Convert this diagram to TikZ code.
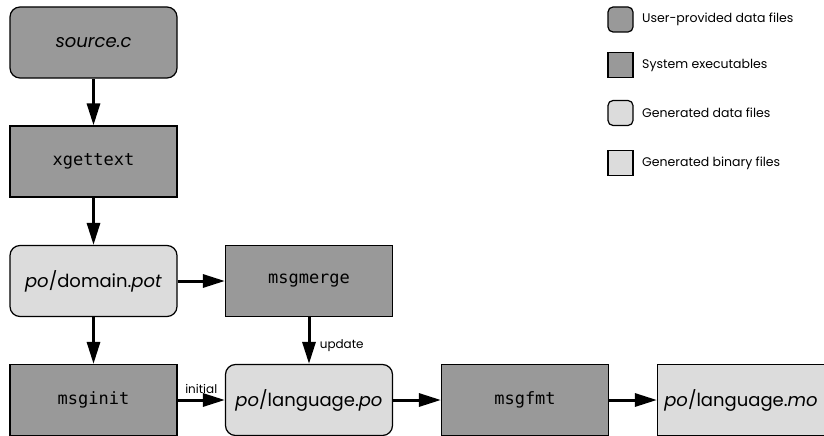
\documentclass[tikz,border=0pt]{standalone}
\usepackage{fontspec}
\setmainfont{Poppins}
\setmonofont{DejaVu Sans Mono}
\usetikzlibrary{arrows.meta}
\definecolor{darkfill}{HTML}{999999}
\definecolor{lightfill}{HTML}{DCDCDC}
\tikzset{
  box/.style={draw, line width=1.2pt, minimum width=167pt, minimum height=71pt, inner sep=0pt},
  userfile/.style={box, rounded corners=10pt, fill=darkfill, font=\fontsize{18}{21}\selectfont\itshape},
  sysexe/.style={box, fill=darkfill, font=\fontsize{17}{20}\ttfamily},
  gendata/.style={box, rounded corners=10pt, fill=lightfill, font=\fontsize{18}{21}\selectfont},
  genbin/.style={box, fill=lightfill, font=\fontsize{18}{21}\selectfont},
  key/.style={draw, line width=1.2pt, minimum size=25pt, inner sep=0pt},
  keytext/.style={anchor=west, inner sep=0pt, font=\fontsize{12.5}{15}\selectfont},
  flow/.style={line width=3pt, -{Triangle[length=22pt,width=13pt]}},
  note/.style={font=\fontsize{12}{14}\selectfont}
}
\begin{document}
\begin{tikzpicture}[x=1pt,y=-1pt]
\useasboundingbox (0,0) rectangle (824,436);
% main chain
\node[userfile] (source) at (93.5,42.5) {source.c};
\node[sysexe] (xgettext) at (93.5,161.5) {xgettext};
\node[gendata] (domain) at (93.5,281) {\textit{po}/domain.\textit{pot}};
\node[sysexe] (msgmerge) at (309,281) {msgmerge};
\node[sysexe] (msginit) at (93.5,400) {msginit};
\node[gendata] (language) at (309,400) {\textit{po}/language.\textit{po}};
\node[sysexe] (msgfmt) at (525,400) {msgfmt};
\node[genbin] (binary) at (741,400) {\textit{po}/language.\textit{mo}};
\draw[flow] (source) -- (xgettext);
\draw[flow] (xgettext) -- (domain);
\draw[flow] (domain) -- (msgmerge);
\draw[flow] (domain) -- (msginit);
\draw[flow] (msgmerge) -- node[note, pos=0.62, anchor=west, xshift=6pt] {update} (language);
\draw[flow] (msginit) -- node[note, anchor=south, yshift=2pt] {initial} (language);
\draw[flow] (language) -- (msgfmt);
\draw[flow] (msgfmt) -- (binary);
% legend
\node[key, rounded corners=5pt, fill=darkfill] (keyuser) at (620.5,19.5) {};
\node[key, fill=darkfill] (keysys) at (620.5,65) {};
\node[key, rounded corners=5pt, fill=lightfill] (keydata) at (620.5,113) {};
\node[key, fill=lightfill] (keybin) at (620.5,163) {};
\node[keytext] at (642,19.5) {User-provided data files};
\node[keytext] at (642,65) {System executables};
\node[keytext] at (642,113) {Generated data files};
\node[keytext] at (642,163) {Generated binary files};
\end{tikzpicture}
\end{document}
